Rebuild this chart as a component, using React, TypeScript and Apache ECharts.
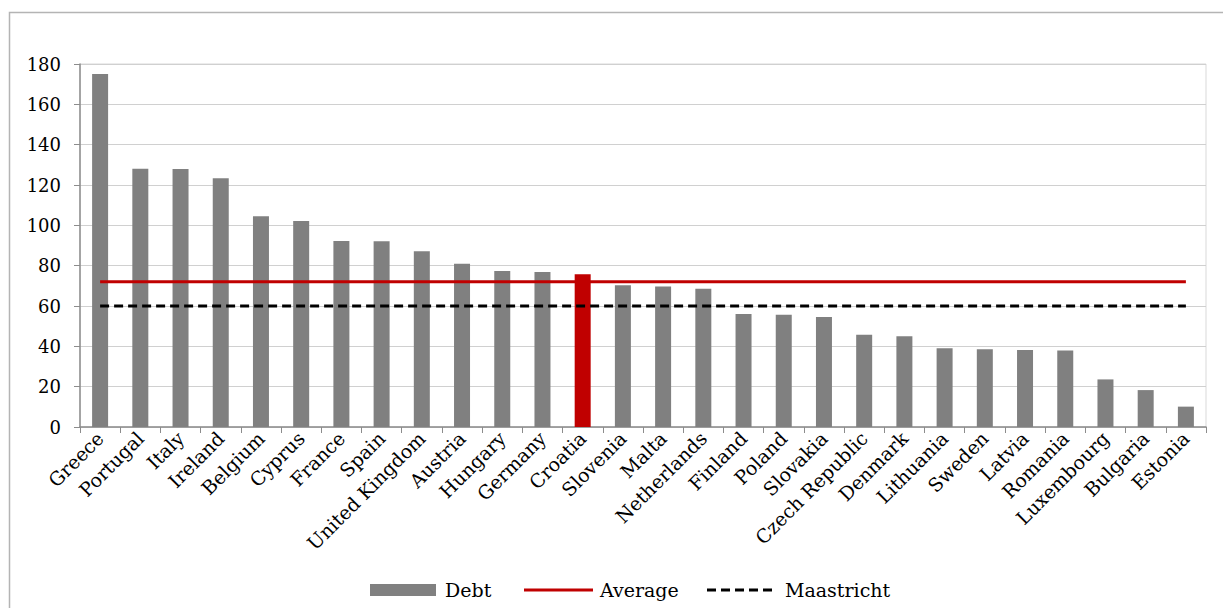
import React, { useEffect, useRef } from "react";
import * as echarts from "echarts";

const categories = [
  "Greece", "Portugal", "Italy", "Ireland", "Belgium", "Cyprus", "France", "Spain",
  "United Kingdom", "Austria", "Hungary", "Germany", "Croatia", "Slovenia", "Malta",
  "Netherlands", "Finland", "Poland", "Slovakia", "Czech Republic", "Denmark",
  "Lithuania", "Sweden", "Latvia", "Romania", "Luxembourg", "Bulgaria", "Estonia",
];
const debtValues = [
  175, 128, 127.9, 123.3, 104.5, 102.2, 92.2, 92.1, 87.2, 81, 77.3, 76.9, 75.7, 70.3,
  69.7, 68.6, 56, 55.7, 54.6, 45.7, 45, 39, 38.6, 38.2, 37.9, 23.6, 18.3, 10.1,
];
const averageValue = 72;
const maastrichtValue = 60;
const highlighted = "Croatia";
const legendNames = ["Debt", "Average", "Maastricht"];

const FONT = "'DejaVu Serif', 'Liberation Serif', serif";
const GREY = "#808080";
const RED = "#C00000";

export default function App() {
  const ref = useRef<HTMLDivElement>(null);
  useEffect(() => {
    if (!ref.current) return;
    const chart = echarts.init(ref.current, undefined, { renderer: "svg" });
    const ly = 590;
    const legendText = (name: string, x: number) => ({
      type: "text",
      x,
      y: ly,
      style: {
        text: name,
        fill: "#000",
        font: `19px ${FONT}`,
        textVerticalAlign: "middle",
        verticalAlign: "middle",
      },
      silent: true,
    });
    chart.setOption({
      animation: false,
      backgroundColor: "#ffffff",
      textStyle: { fontFamily: FONT, color: "#000" },
      graphic: [
        {
          type: "rect",
          shape: { x: 9.5, y: 12.5, width: 1400, height: 800 },
          style: { fill: "none", stroke: "#b4b4b4", lineWidth: 1.5 },
          silent: true,
        },
        {
          type: "rect",
          shape: { x: 370, y: ly - 6, width: 66, height: 12 },
          style: { fill: GREY },
          silent: true,
        },
        legendText(legendNames[0], 445),
        {
          type: "line",
          shape: { x1: 524, y1: ly, x2: 593, y2: ly },
          style: { stroke: RED, lineWidth: 3 },
          silent: true,
        },
        legendText(legendNames[1], 600),
        {
          type: "line",
          shape: { x1: 707, y1: ly, x2: 773, y2: ly },
          style: { stroke: "#000", lineWidth: 3, lineDash: [9, 5] },
          silent: true,
        },
        legendText(legendNames[2], 785),
      ],
      grid: {
        left: 80, right: 17, top: 64, bottom: 181,
        show: true, borderColor: "#d9d9d9", borderWidth: 1, backgroundColor: "transparent",
      },
      legend: { show: false, data: legendNames },
      xAxis: {
        type: "category",
        data: categories,
        boundaryGap: true,
        axisLine: { lineStyle: { color: "#8c8c8c", width: 1.5 } },
        axisTick: { show: true, length: 6, lineStyle: { color: "#8c8c8c" } },
        axisLabel: {
          rotate: 45,
          interval: 0,
          margin: 8,
          fontFamily: FONT,
          fontSize: 19,
          color: "#000",
        },
      },
      yAxis: {
        type: "value",
        min: 0,
        max: 180,
        interval: 20,
        axisLine: { show: true, lineStyle: { color: "#8c8c8c", width: 1.5 } },
        axisTick: { show: true, length: 6, lineStyle: { color: "#8c8c8c" } },
        splitLine: { lineStyle: { color: "#d0d0d0", width: 1 } },
        axisLabel: { fontFamily: FONT, fontSize: 18, color: "#000", margin: 19 },
      },
      series: [
        {
          name: "Debt",
          type: "bar",
          barWidth: 16,
          itemStyle: { color: GREY },
          data: debtValues.map((v, i) =>
            categories[i] === highlighted
              ? { value: v, itemStyle: { color: RED } }
              : v
          ),
          z: 2,
        },
        {
          name: "Average",
          type: "line",
          symbol: "none",
          lineStyle: { color: RED, width: 3 },
          itemStyle: { color: RED },
          data: categories.map(() => averageValue),
          z: 3,
        },
        {
          name: "Maastricht",
          type: "line",
          symbol: "none",
          lineStyle: { color: "#000000", width: 3, type: [9, 5] },
          itemStyle: { color: "#000000" },
          data: categories.map(() => maastrichtValue),
          z: 3,
        },
      ],
    });
    return () => chart.dispose();
  }, []);
  return (
    <div
      ref={ref}
      style={{ position: "absolute", left: 0, top: 0, width: 1223, height: 608 }}
    />
  );
}
